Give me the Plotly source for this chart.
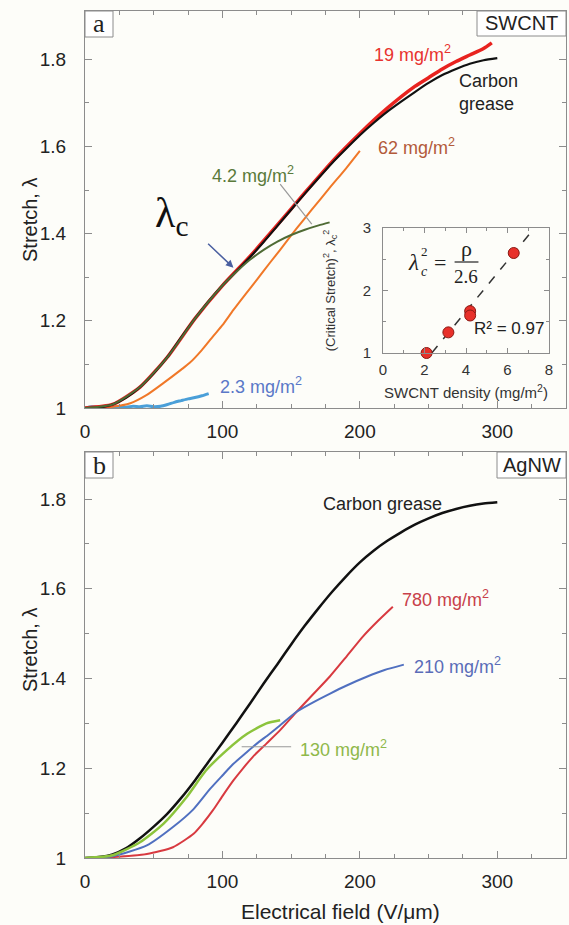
import plotly.graph_objects as go

# ---------------- Panel a (SWCNT) ----------------
cg_a_x = [0, 10, 20, 30, 40, 50, 60, 70, 80, 90, 100, 110, 120, 130, 140, 150, 160, 170, 180, 190, 200, 210, 220, 230, 240, 250, 260, 270, 280, 290, 300]
cg_a_y = [1.0, 1.001, 1.008, 1.024, 1.048, 1.080, 1.117, 1.162, 1.205, 1.245, 1.281, 1.313, 1.346, 1.381, 1.418, 1.455, 1.492, 1.528, 1.563, 1.595, 1.626, 1.654, 1.680, 1.703, 1.725, 1.746, 1.764, 1.778, 1.790, 1.798, 1.803]

s19_x = [0, 20, 40, 60, 80, 100, 120, 140, 160, 180, 200, 220, 240, 250, 260, 270, 280, 290, 296]
s19_y = [1.0, 1.008, 1.048, 1.117, 1.205, 1.281, 1.348, 1.420, 1.494, 1.566, 1.630, 1.688, 1.738, 1.758, 1.778, 1.795, 1.810, 1.825, 1.838]

s62_x = [0, 20, 33, 45, 57, 70, 76, 85, 93, 100, 108, 117, 125, 135, 142, 154, 165, 178, 190, 200]
s62_y = [1.0, 1.003, 1.011, 1.030, 1.057, 1.088, 1.103, 1.133, 1.164, 1.190, 1.225, 1.262, 1.294, 1.335, 1.363, 1.412, 1.455, 1.505, 1.550, 1.590]

s42_x = [0, 20, 40, 60, 80, 100, 110, 120, 130, 140, 150, 160, 170, 178]
s42_y = [1.0, 1.008, 1.048, 1.117, 1.205, 1.281, 1.312, 1.340, 1.363, 1.382, 1.397, 1.409, 1.419, 1.426]

s23_x = [0, 5, 10, 15, 20, 25, 30, 35, 40, 45, 50, 55, 60, 65, 70, 75, 80, 85, 90]
s23_y = [1.0, 1.003, 1.002, 1.004, 1.001, 1.003, 1.002, 1.004, 1.003, 1.005, 1.003, 1.004, 1.008, 1.013, 1.017, 1.021, 1.024, 1.028, 1.033]

# inset: critical stretch squared vs SWCNT density
dens = [2.1, 3.15, 4.2, 4.2, 6.3]
lam_c2 = [1.0, 1.33, 1.67, 1.60, 2.60]
fit_x = [2.35, 7.3]
fit_y = [1.0, 3.0]

# ---------------- Panel b (AgNW) ----------------
cg_b_x = [0, 10, 20, 30, 40, 50, 60, 70, 80, 90, 100, 110, 120, 130, 140, 150, 160, 170, 180, 190, 200, 210, 220, 230, 240, 250, 260, 270, 280, 290, 300]
cg_b_y = [1.0, 1.002, 1.008, 1.022, 1.044, 1.070, 1.099, 1.134, 1.173, 1.215, 1.257, 1.300, 1.344, 1.389, 1.432, 1.476, 1.518, 1.557, 1.594, 1.628, 1.659, 1.685, 1.707, 1.726, 1.743, 1.757, 1.769, 1.778, 1.785, 1.790, 1.793]

s780_x = [0, 20, 45, 64, 79, 86, 93, 100, 108, 115, 122, 132, 142, 154, 166, 178, 190, 202, 212, 224]
s780_y = [1.0, 1.002, 1.009, 1.024, 1.054, 1.078, 1.106, 1.138, 1.173, 1.200, 1.225, 1.255, 1.285, 1.326, 1.365, 1.404, 1.448, 1.493, 1.525, 1.560]

s210_x = [0, 20, 45, 64, 79, 91, 100, 108, 117, 125, 134, 142, 154, 166, 178, 190, 205, 218, 232]
s210_y = [1.0, 1.004, 1.028, 1.069, 1.109, 1.154, 1.184, 1.210, 1.234, 1.255, 1.276, 1.296, 1.326, 1.347, 1.366, 1.384, 1.404, 1.419, 1.431]

s130_x = [0, 20, 40, 57, 74, 88, 103, 118, 132, 142]
s130_y = [1.0, 1.006, 1.035, 1.076, 1.136, 1.195, 1.240, 1.277, 1.300, 1.307]

x_ticks = [0, 100, 200, 300]
y_ticks = [1, 1.2, 1.4, 1.6, 1.8]
y_labels = ["1", "1.2", "1.4", "1.6", "1.8"]

BG = "#fdfdf9"
AX = "#8c8c8c"
FONT = "Liberation Sans, Arial, sans-serif"
SER = "Liberation Serif, Times New Roman, serif"
W, H = 569, 925


def px(x):
    return x / W


def py(y):
    return (H - y) / H


fig = go.Figure()


def line(x, y, color, width, xa="x", ya="y"):
    fig.add_trace(go.Scatter(x=x, y=y, mode="lines", xaxis=xa, yaxis=ya,
                             line=dict(color=color, width=width, shape="spline", smoothing=0.6),
                             showlegend=False, hoverinfo="skip"))


# panel a traces
line(s23_x, s23_y, "#4a9fd8", 3)
line(s62_x, s62_y, "#f07828", 2)
line(s19_x, s19_y, "#e8231f", 3.5)
line(cg_a_x, cg_a_y, "#111111", 2.2)
line(s42_x, s42_y, "#4f6b35", 2)

# panel b traces
line(cg_b_x, cg_b_y, "#111111", 2.5, "x2", "y2")
line(s780_x, s780_y, "#d83a40", 2, "x2", "y2")
line(s210_x, s210_y, "#5070c0", 2, "x2", "y2")
line(s130_x, s130_y, "#8cc43c", 2.5, "x2", "y2")

# inset
fig.add_trace(go.Scatter(x=fit_x, y=fit_y, mode="lines", xaxis="x3", yaxis="y3",
                         line=dict(color="#333", width=1.5, dash="dash"),
                         showlegend=False, hoverinfo="skip"))
fig.add_trace(go.Scatter(x=dens, y=lam_c2, mode="markers", xaxis="x3", yaxis="y3",
                         marker=dict(color="#e8302a", size=11, line=dict(color="#8a1a14", width=1)),
                         showlegend=False, hoverinfo="skip", cliponaxis=False))

common_x = dict(range=[0, 350], tickvals=x_ticks, ticks="inside", ticklen=7, tickcolor=AX,
                showline=True, linecolor=AX, linewidth=1, mirror="allticks", automargin=False,
                showgrid=False, zeroline=False, tickfont=dict(size=19, color="#222", family=FONT),
                minor=dict(dtick=25, ticks="inside", ticklen=4, tickcolor=AX), ticklabelstandoff=6)
common_y = dict(tickvals=y_ticks, ticktext=y_labels, ticks="inside", ticklen=7, tickcolor=AX,
                showline=True, linecolor=AX, linewidth=1, mirror="allticks", automargin=False,
                showgrid=False, zeroline=False, tickfont=dict(size=19, color="#222", family=FONT),
                minor=dict(dtick=0.1, ticks="inside", ticklen=4, tickcolor=AX), ticklabelstandoff=14)

fig.update_layout(
    width=W, height=H, autosize=False,
    margin=dict(l=0, r=0, t=0, b=0, pad=0, autoexpand=False),
    paper_bgcolor=BG, plot_bgcolor=BG,
    font=dict(family=FONT, color="#222"),
    xaxis=dict(domain=[px(85), px(566)], anchor="y", **common_x),
    yaxis=dict(domain=[py(408), py(11)], anchor="x", range=[1, 1.911], **common_y),
    xaxis2=dict(domain=[px(85), px(566)], anchor="y2", **common_x),
    yaxis2=dict(domain=[py(858), py(452)], anchor="x2", range=[1, 1.905], **common_y),
    xaxis3=dict(domain=[px(383), px(549)], anchor="y3", range=[0, 8], tickvals=[0, 2, 4, 6, 8],
                ticks="inside", ticklen=5, tickcolor=AX, showline=True, linecolor=AX, mirror="allticks",
                showgrid=False, zeroline=False, tickfont=dict(size=15, color="#333", family=FONT),
                minor=dict(dtick=1, ticks="inside", ticklen=3, tickcolor=AX), automargin=False,
                ticklabelstandoff=3,
                title=dict(text="SWCNT density (mg/m<sup>2</sup>)", font=dict(size=15, color="#333", family=FONT), standoff=10)),
    yaxis3=dict(domain=[py(353), py(228)], anchor="x3", range=[1, 3], tickvals=[1, 2, 3],
                ticks="inside", ticklen=5, tickcolor=AX, showline=True, linecolor=AX, mirror="allticks",
                showgrid=False, zeroline=False, tickfont=dict(size=15, color="#333", family=FONT),
                minor=dict(dtick=0.5, ticks="inside", ticklen=3, tickcolor=AX), ticklabelstandoff=8, automargin=False,
                title=dict(text="(Critical Stretch)<sup>2</sup>, λ<sub>c</sub><sup>2</sup>", font=dict(size=13, color="#333", family=FONT), standoff=24)),
)

ann = []


def txt(x, y, s, color, size=18, xref="x", yref="y", xanchor="left", family=FONT, **kw):
    ann.append(dict(x=x, y=y, text=s, xref=xref, yref=yref, showarrow=False, xanchor=xanchor,
                    yanchor="middle", font=dict(size=size, color=color, family=family), **kw))


# panel a labels
txt(209, 1.814, "19 mg/m<sup>2</sup>", "#e8332f")
txt(271, 1.725, "Carbon<br>grease", "#222222", align="left")
txt(212, 1.601, "62 mg/m<sup>2</sup>", "#b35a3a")
txt(91, 1.536, "4.2 mg/m<sup>2</sup>", "#5a7a3a")
txt(97, 1.051, "2.3 mg/m<sup>2</sup>", "#5a78c8")
txt(63, 1.441, "λ<sub>c</sub>", "#111111", size=42, xanchor="center", family=SER)
ann.append(dict(x=108, y=1.322, ax=88.5, ay=1.380, xref="x", yref="y", axref="x", ayref="y",
                showarrow=True, arrowhead=2, arrowsize=1, arrowwidth=1.5, arrowcolor="#4a5fa0", text=""))

# panel b labels
txt(172, 1.788, "Carbon grease", "#222222", xref="x2", yref="y2")
txt(229, 1.579, "780 mg/m<sup>2</sup>", "#c8404a", xref="x2", yref="y2")
txt(238, 1.43, "210 mg/m<sup>2</sup>", "#5a6cb8", xref="x2", yref="y2")
txt(155, 1.244, "130 mg/m<sup>2</sup>", "#8fb84a", xref="x2", yref="y2")

# inset equation
txt(1.45, 2.456, "<i>λ</i>", "#222", size=23, xref="x3", yref="y3", xanchor="center", family=SER)
txt(1.98, 2.62, "2", "#222", size=13, xref="x3", yref="y3", xanchor="center", family=SER)
txt(1.98, 2.30, "<i>c</i>", "#222", size=14, xref="x3", yref="y3", xanchor="center", family=SER)
txt(2.75, 2.456, "=", "#222", size=22, xref="x3", yref="y3", xanchor="center", family=SER)
txt(4.0, 2.68, "ρ", "#222", size=22, xref="x3", yref="y3", xanchor="center", family=SER)
txt(4.0, 2.22, "2.6", "#222", size=19, xref="x3", yref="y3", xanchor="center", family=SER)
txt(6.05, 1.40, "R² = 0.97", "#222", size=17, xref="x3", yref="y3", xanchor="center")

# axis titles
for yc in (220, 650):
    ann.append(dict(x=px(30), y=py(yc), xref="paper", yref="paper", text="Stretch, λ", textangle=-90,
                    xanchor="center", yanchor="middle",
                    showarrow=False, font=dict(size=20, color="#222", family=FONT)))
ann.append(dict(x=px(340), y=py(911), xref="paper", yref="paper", text="Electrical field (V/μm)",
                xanchor="center", yanchor="middle",
                showarrow=False, font=dict(size=21, color="#222", family=FONT)))

# panel tags
TAGS = [(85, 113, 11, 37, "a", SER, 26), (477, 566, 11, 36, "SWCNT", FONT, 20),
        (85, 113, 452, 478, "b", SER, 26), (497, 566, 452, 478, "AgNW", FONT, 20)]
for (x0, x1, y0, y1, s, fam, sz) in TAGS:
    ann.append(dict(x=px((x0 + x1) / 2), y=py((y0 + y1) / 2), xref="paper", yref="paper", text=s,
                    xanchor="center", yanchor="middle",
                    showarrow=False, font=dict(size=sz, color="#222", family=fam)))

fig.update_layout(annotations=ann)

shapes = []
for (x0, x1, y0, y1, *_r) in TAGS:
    shapes.append(dict(type="rect", xref="paper", yref="paper", x0=px(x0), x1=px(x1), y0=py(y1), y1=py(y0),
                       line=dict(color=AX, width=1), fillcolor="white", layer="above"))
# leader lines
shapes.append(dict(type="line", xref="x", yref="y", x0=142, y0=1.514, x1=165, y1=1.422, line=dict(color="#999", width=1.2)))
shapes.append(dict(type="line", xref="x2", yref="y2", x0=114, y0=1.248, x1=150, y1=1.248, line=dict(color="#999", width=1.2)))
# fraction bar
shapes.append(dict(type="line", xref="x3", yref="y3", x0=3.45, y0=2.456, x1=4.6, y1=2.456, line=dict(color="#222", width=1.2)))
fig.update_layout(shapes=shapes)

fig.write_html("out.html", config={"displayModeBar": False, "responsive": False},
               post_script="document.body.style.margin='0';document.body.style.overflow='hidden';")
